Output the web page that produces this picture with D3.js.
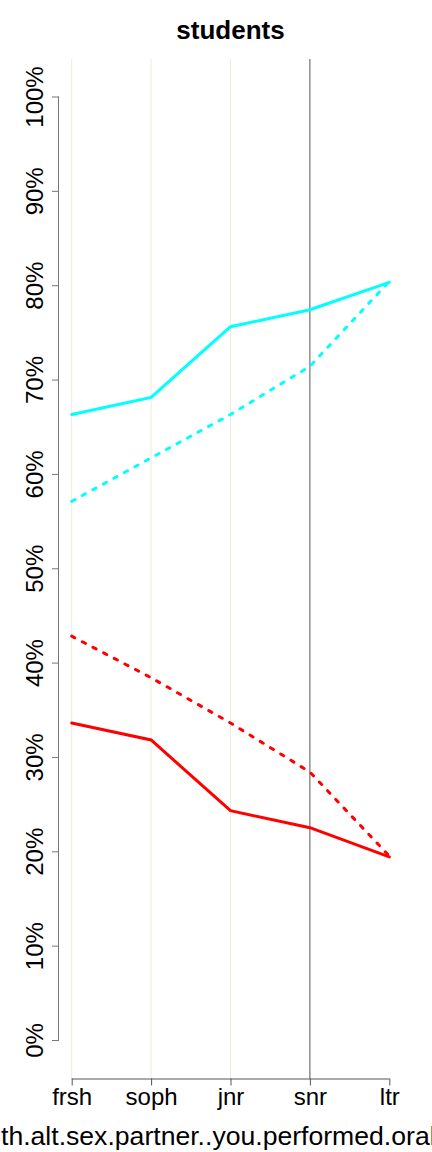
<!DOCTYPE html>
<html>
<head>
<meta charset="utf-8">
<script src="https://cdn.jsdelivr.net/npm/d3@7"></script>
<style>
  html, body { margin: 0; padding: 0; background: #fff; }
  svg { display: block; font-family: "Liberation Sans", Arial, sans-serif; }
</style>
</head>
<body>
<script>
// ---- data ----
const categories = ["frsh", "soph", "jnr", "snr", "ltr"];
const cyanSolid  = [0.663, 0.681, 0.756, 0.774, 0.803];
const cyanDotted = [0.571, 0.617, 0.663, 0.714, 0.804];
const redSolid   = [0.336, 0.318, 0.243, 0.225, 0.194];
const redDotted  = [0.428, 0.384, 0.336, 0.284, 0.195];
const yTicks = [0, 0.1, 0.2, 0.3, 0.4, 0.5, 0.6, 0.7, 0.8, 0.9, 1.0];
const beigeLines = ["frsh", "soph", "jnr"];
const darkLines = ["snr"];
const title = "students";
const xLabelPrefix = "Wi";
const xLabelVisible = "th.alt.sex.partner..you.performed.oral";
const xLabelSuffix = ".sex.";

const W = 432, H = 1152;
const plotTop = 59, plotBottom = 1078.5;

const svg = d3.select("body").append("svg").attr("width", W).attr("height", H);

const x = d3.scalePoint().domain(categories).range([71.7, 389.3]);
const y = d3.scaleLinear().domain([0, 1]).range([1040, 96.5]);

// vertical reference lines
svg.append("g").selectAll("line").data(beigeLines).join("line")
  .attr("x1", d => x(d)).attr("x2", d => x(d))
  .attr("y1", plotTop).attr("y2", plotBottom)
  .attr("stroke", "#efecdc").attr("stroke-width", 1);
svg.append("g").selectAll("line").data(darkLines).join("line")
  .attr("x1", d => x(d)).attr("x2", d => x(d))
  .attr("y1", plotTop).attr("y2", plotBottom)
  .attr("stroke", "#555").attr("stroke-width", 1);

// y axis
const yAxis = d3.axisLeft(y).tickValues(yTicks).tickFormat(d3.format(".0%")).tickSize(7).tickPadding(0);
const gy = svg.append("g").attr("transform", "translate(59,0)").call(yAxis);
gy.select(".domain").attr("stroke", "#777").attr("d", `M-0.5,${y(1)}V${y(0)}`);
gy.selectAll(".tick line").attr("stroke", "#777");
gy.selectAll(".tick text")
  .attr("font-size", 24).attr("fill", "#000")
  .attr("text-anchor", "middle")
  .attr("x", 0).attr("dy", 0)
  .attr("transform", "translate(-16,0) rotate(-90)")
  .attr("y", 0);

// x axis
const xAxis = d3.axisBottom(x).tickSize(7).tickPadding(0);
const gx = svg.append("g").attr("transform", `translate(0,${plotBottom})`).call(xAxis);
gx.select(".domain").attr("stroke", "#555").attr("d", `M${x("frsh")},0.5H${x("ltr")}`);
gx.selectAll(".tick line").attr("stroke", "#555");
gx.selectAll(".tick text").attr("font-size", 24).attr("fill", "#000").attr("dy", 0).attr("y", 26.5);

// lines
const line = d3.line().x((d, i) => x(categories[i])).y(d => y(d));
const series = [
  {vals: cyanSolid, color: "#00FFFF", dash: null},
  {vals: cyanDotted, color: "#00FFFF", dash: "3.5,8.5"},
  {vals: redSolid, color: "#FF0000", dash: null},
  {vals: redDotted, color: "#FF0000", dash: "3.5,8.5"}
];
svg.append("g").selectAll("path").data(series).join("path")
  .attr("d", d => line(d.vals))
  .attr("fill", "none")
  .attr("stroke", d => d.color)
  .attr("stroke-width", 3)
  .attr("stroke-linecap", "round")
  .attr("stroke-dasharray", d => d.dash);

// title
svg.append("text").attr("x", 230.5).attr("y", 39)
  .attr("text-anchor", "middle").attr("font-size", 26).attr("font-weight", "bold")
  .text(title);

// x label (wider than the page, clipped at both edges as in the reference)
const labelSize = 26.6;
const tmp = svg.append("text").attr("font-size", labelSize).text(xLabelPrefix);
const prefixW = tmp.node().getComputedTextLength();
tmp.remove();
svg.append("text").attr("x", 1 - prefixW).attr("y", 1145)
  .attr("text-anchor", "start").attr("font-size", labelSize)
  .text(xLabelPrefix + xLabelVisible + xLabelSuffix);
</script>
</body>
</html>
